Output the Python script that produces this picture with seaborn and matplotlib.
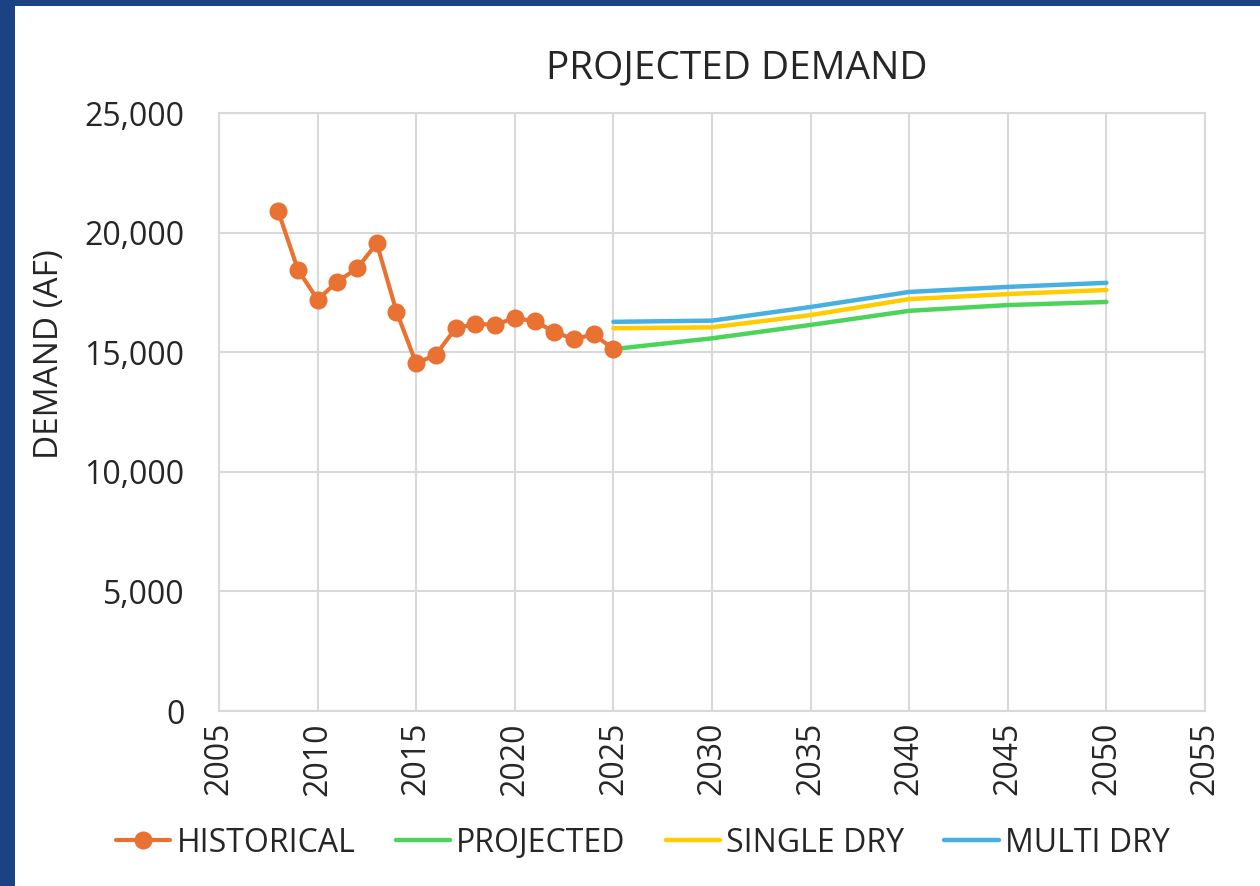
import pandas as pd
import matplotlib.pyplot as plt
import seaborn as sns
from matplotlib.patches import Rectangle
from matplotlib.ticker import FuncFormatter

# historical demand (AF)
hist_years = [2008, 2009, 2010, 2011, 2012, 2013, 2014, 2015, 2016,
              2017, 2018, 2019, 2020, 2021, 2022, 2023, 2024, 2025]
hist_demand = [20900, 18450, 17200, 17950, 18500, 19550, 16700, 14530, 14900,
               16000, 16180, 16150, 16430, 16300, 15850, 15540, 15750, 15130]

# projections
proj_years = [2025, 2030, 2035, 2040, 2045, 2050]
projected = [15130, 15580, 16140, 16730, 16970, 17100]
single_dry = [16000, 16040, 16550, 17220, 17430, 17600]
multi_dry = [16270, 16320, 16890, 17520, 17730, 17900]

sns.set_style('white')
plt.rcParams['font.family'] = ['Open Sans', 'DejaVu Sans']

fig = plt.figure(figsize=(12.6, 8.86), dpi=100, facecolor='#1B4383')
fig.patches.append(Rectangle((15 / 1260, 0), 1, 1 - 6 / 886, transform=fig.transFigure,
                             facecolor='white', edgecolor='none', zorder=-1))
ax = fig.add_axes([219 / 1260, 1 - 711 / 886, 986 / 1260, 598 / 886])

hist = pd.DataFrame({'year': hist_years, 'demand': hist_demand})
proj = pd.DataFrame({'year': proj_years, 'PROJECTED': projected,
                     'SINGLE DRY': single_dry, 'MULTI DRY': multi_dry})

sns.lineplot(data=hist, x='year', y='demand', ax=ax, color='#E97132', lw=3,
             marker='o', markersize=13, markeredgewidth=0, label='HISTORICAL', zorder=5)
for col, c in [('PROJECTED', '#4CD45A'), ('SINGLE DRY', '#FFCC00'), ('MULTI DRY', '#47B0E0')]:
    sns.lineplot(data=proj, x='year', y=col, ax=ax, color=c, lw=3.2,
                 solid_capstyle='round', label=col, zorder=4)

txt = '#262626'
ax.set_xlim(2005, 2055)
ax.set_ylim(0, 25000)
ax.set_xticks(range(2005, 2056, 5))
ax.set_yticks(range(0, 25001, 5000))
ax.yaxis.set_major_formatter(FuncFormatter(lambda v, p: f'{int(v):,}'))
ax.tick_params(axis='x', labelrotation=90, labelsize=23, colors=txt, length=0, pad=8)
ax.tick_params(axis='y', labelsize=23, colors=txt, length=0, pad=25)
ax.grid(True, color='#D9D9D9', lw=1.5)
for s in ax.spines.values():
    s.set_color('#D9D9D9')
    s.set_linewidth(1.5)
ax.set_xlabel('')
ax.set_ylabel('DEMAND (AF)', fontsize=24, color=txt)
ax.yaxis.set_label_coords(-0.155, 0.596)
ax.set_title('PROJECTED DEMAND', fontsize=28, color=txt, x=0.525, pad=25)

ax.legend(loc='center', bbox_to_anchor=(0.43, -0.221), ncol=4, frameon=False,
          fontsize=23, handlelength=1.7, columnspacing=1.25, handletextpad=0.2,
          labelcolor=txt)

fig.savefig('out.png', dpi=100, facecolor=fig.get_facecolor())
